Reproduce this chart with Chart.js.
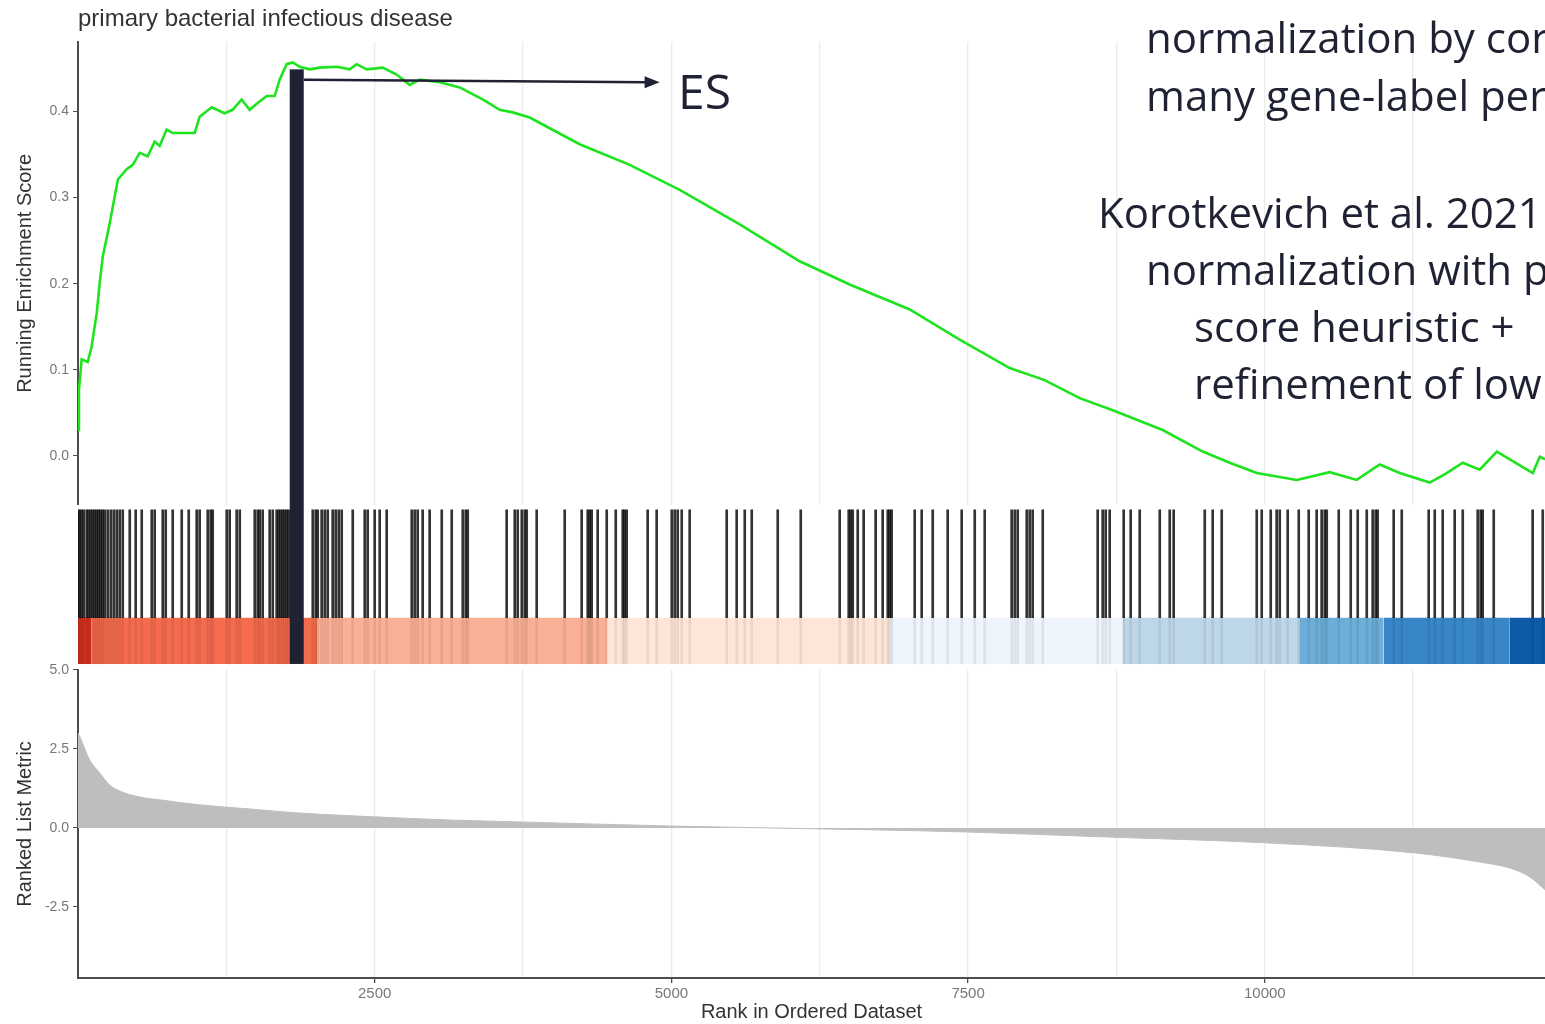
<!DOCTYPE html>
<html>
<head>
<meta charset="utf-8">
<script src="https://cdn.jsdelivr.net/npm/chart.js@4.4.1/dist/chart.umd.min.js"></script>
<style>
  html, body { margin: 0; padding: 0; background: #fff; }
  body { width: 1545px; height: 1024px; overflow: hidden; position: relative; }
  #gsea { position: absolute; left: 0; top: 0; }
  .note { position: absolute; white-space: nowrap; color: #1f2233;
          font-family: "Open Sans", sans-serif; font-size: 42px; line-height: 42px; }
</style>
</head>
<body>
<canvas id="gsea" width="1545" height="1024"></canvas>
<div class="note" style="left:678px; top:67px; font-size:48px; line-height:48px;">ES</div>
<div class="note" style="left:1146px; top:16px;">normalization by cor</div>
<div class="note" style="left:1146px; top:74px;">many gene-label per</div>
<div class="note" style="left:1098px; top:191px;">Korotkevich et al. 2021</div>
<div class="note" style="left:1146px; top:248px;">normalization with p</div>
<div class="note" style="left:1194px; top:305px;">score heuristic +</div>
<div class="note" style="left:1194px; top:362px;">refinement of low</div>
<script>
// running enrichment score (rank, score)
const esRanks = [0, 8, 31, 82, 115, 158, 183, 208, 267, 336, 410, 461, 520, 587, 646, 688, 747, 798, 983,
  1025, 1127, 1236, 1303, 1379, 1446, 1514, 1590, 1657, 1699, 1758, 1809, 1868, 1953, 2037, 2180, 2289,
  2348, 2433, 2567, 2685, 2795, 2879, 3048, 3216, 3410, 3553, 3663, 3806, 4227, 4649, 5070, 5576, 6081,
  6502, 7008, 7429, 7850, 8145, 8440, 8719, 9140, 9477, 9704, 9932, 10269, 10547, 10775, 10968, 11137,
  11390, 11533, 11668, 11811, 11955, 12258, 12317, 12361];
const esScores = [0.03, 0.077, 0.112, 0.109, 0.127, 0.166, 0.201, 0.231, 0.27, 0.321, 0.333, 0.338, 0.352,
  0.348, 0.365, 0.36, 0.379, 0.375, 0.375, 0.394, 0.405, 0.398, 0.402, 0.414, 0.402, 0.41, 0.418, 0.418,
  0.437, 0.455, 0.457, 0.452, 0.449, 0.451, 0.452, 0.449, 0.455, 0.449, 0.451, 0.443, 0.431, 0.437, 0.434,
  0.428, 0.414, 0.402, 0.399, 0.393, 0.362, 0.338, 0.309, 0.269, 0.226, 0.199, 0.170, 0.135, 0.102, 0.088,
  0.067, 0.053, 0.03, 0.005, -0.008, -0.02, -0.028, -0.019, -0.028, -0.01, -0.02, -0.031, -0.02, -0.008,
  -0.016, 0.005, -0.02, -0.001, -0.004];

// positions of gene set members in the ranked list
const hitRanks = [1, 14, 31, 48, 73, 90, 107, 124, 141, 158, 174, 191, 208, 225, 250, 276, 301, 326, 351,
  377, 436, 486, 537, 621, 646, 714, 739, 798, 874, 933, 1000, 1025, 1093, 1118, 1135, 1253, 1278, 1337,
  1363, 1489, 1514, 1531, 1556, 1615, 1641, 1674, 1691, 1708, 1725, 1742, 1759, 1775, 1978, 2003, 2020,
  2053, 2079, 2104, 2146, 2171, 2197, 2222, 2315, 2416, 2441, 2500, 2542, 2601, 2812, 2837, 2862, 2904,
  2963, 3065, 3149, 3242, 3267, 3284, 3612, 3680, 3705, 3739, 3764, 3781, 3865, 4101, 4244, 4295, 4312,
  4328, 4379, 4455, 4531, 4590, 4606, 4623, 4800, 4876, 5003, 5028, 5053, 5087, 5154, 5466, 5550, 5618,
  5677, 5896, 6090, 6418, 6494, 6511, 6528, 6570, 6620, 6721, 6780, 6823, 6839, 6856, 7050, 7109, 7202,
  7328, 7446, 7556, 7640, 7867, 7893, 7918, 7994, 8019, 8044, 8129, 8592, 8634, 8659, 8693, 8811, 8870,
  8946, 9115, 9199, 9232, 9494, 9561, 9637, 9932, 9974, 10050, 10100, 10126, 10193, 10286, 10370, 10437,
  10479, 10505, 10522, 10623, 10724, 10783, 10859, 10909, 10934, 10951, 11086, 11154, 11381, 11432,
  11499, 11600, 11668, 11794, 11819, 11836, 11929, 12257, 12342];

// ranked list metric (rank, value)
const metricRanks = [0, 14, 98, 183, 267, 351, 520, 688, 1025, 1446, 1868, 2500, 3132, 3721, 4994, 5828,
  7497, 8609, 9999, 11263, 11811, 12064, 12233, 12361];
const metricValues = [3.0, 2.9, 2.15, 1.74, 1.36, 1.17, 0.98, 0.89, 0.73, 0.6, 0.47, 0.35, 0.25, 0.19, 0.06,
  0.0, -0.13, -0.28, -0.47, -0.79, -1.08, -1.27, -1.55, -1.96];

// colour bar segments of the ranked list
const bandEdges = [0, 115, 2020, 4460, 6840, 8805, 10290, 11000, 12060, 12361];
const bandColors = ['#d7301f', '#f46b4d', '#fab095', '#fde5d8', '#eef4fc', '#bdd7e8', '#6caed7', '#3886c5', '#0f5aa6'];

const gridRanks = [1250, 2500, 3750, 5000, 6250, 7500, 8750, 10000, 11250];
const xTickLabels = [2500, 5000, 7500, 10000];
const esTicks = [0.0, 0.1, 0.2, 0.3, 0.4];
const metricTicks = [-2.5, 0.0, 2.5, 5.0];

const esPeakRank = 1843;
const esBarTop = 0.449;
const arrowEndRank = 4901;

const axisColor = '#4d4d4d';
const tickFont = {family: 'Liberation Sans', size: 14};
const titleFont = {family: 'Liberation Sans', size: 20};

// hits drawn from 0.3 to 1, colour bar from 0 to 0.3 on the middle axis
const datasets = [];
datasets.push({
  type: 'line', yAxisID: 'yES',
  data: esRanks.map((r, i) => ({x: r, y: esScores[i]})),
  borderColor: '#1ee31e', borderWidth: 2.6, pointRadius: 0, fill: false, tension: 0
});
datasets.push({
  type: 'line', yAxisID: 'yMetric',
  data: metricRanks.map((r, i) => ({x: r, y: metricValues[i]})),
  borderColor: '#bebebe', borderWidth: 1, backgroundColor: '#bebebe',
  pointRadius: 0, fill: 'origin', cubicInterpolationMode: 'monotone'
});
datasets.push({
  type: 'bar', yAxisID: 'yHits', grouped: false,
  data: hitRanks.map(r => ({x: r, y: [0.3, 1.0]})),
  backgroundColor: 'rgba(0,0,0,0.8)', barThickness: 2, borderWidth: 0
});
datasets.push({
  type: 'bar', yAxisID: 'yHits', grouped: false,
  data: hitRanks.map(r => ({x: r, y: [0, 0.3]})),
  backgroundColor: 'rgba(0,0,0,0.07)', barThickness: 2, borderWidth: 0
});
for (let i = 0; i < bandColors.length; i++) {
  datasets.push({
    type: 'line', yAxisID: 'yHits',
    data: [{x: bandEdges[i], y: 0.3}, {x: bandEdges[i + 1], y: 0.3}],
    borderWidth: 0, pointRadius: 0, backgroundColor: bandColors[i],
    fill: {value: 0}
  });
}

const gseaPlugin = {
  id: 'gseaExtras',
  beforeDatasetsDraw(chart) {
    // hit panel has a plain background
    const {ctx, chartArea} = chart;
    const h = chart.scales.yHits;
    ctx.save();
    ctx.fillStyle = '#ffffff';
    ctx.fillRect(chartArea.left + 1, h.top, chartArea.width, h.bottom - h.top);
    ctx.restore();
  },
  afterDatasetsDraw(chart) {
    const {ctx} = chart;
    const x = chart.scales.x;
    const yES = chart.scales.yES;
    const yHits = chart.scales.yHits;
    const cx = x.getPixelForValue(esPeakRank);
    const top = yES.getPixelForValue(esBarTop);
    const bottom = yHits.getPixelForValue(0);
    ctx.save();
    ctx.fillStyle = '#1f2233';
    ctx.fillRect(cx - 7, top, 14, bottom - top);
    // arrow pointing to the ES label
    const y1 = yES.getPixelForValue(0.437);
    const y2 = yES.getPixelForValue(0.434);
    const xEnd = x.getPixelForValue(arrowEndRank);
    ctx.strokeStyle = '#1f2233';
    ctx.lineWidth = 2.5;
    ctx.beginPath();
    ctx.moveTo(cx + 7, y1);
    ctx.lineTo(xEnd - 12, y2);
    ctx.stroke();
    ctx.beginPath();
    ctx.moveTo(xEnd, y2);
    ctx.lineTo(xEnd - 15, y2 - 6);
    ctx.lineTo(xEnd - 15, y2 + 6);
    ctx.closePath();
    ctx.fill();
    ctx.restore();
  }
};

new Chart(document.getElementById('gsea'), {
  type: 'line',
  data: {datasets: datasets},
  plugins: [gseaPlugin],
  options: {
    responsive: false,
    animation: false,
    devicePixelRatio: 1,
    layout: {padding: 0},
    plugins: {
      legend: {display: false},
      tooltip: {enabled: false},
      title: {
        display: true, text: 'primary bacterial infectious disease', align: 'start', fullSize: false,
        color: '#333', font: {family: 'Liberation Sans', size: 24, weight: 'normal'},
        padding: {top: 5, bottom: 8}
      }
    },
    scales: {
      x: {
        type: 'linear', min: 0, max: 12361, offset: false, position: 'bottom',
        afterBuildTicks: s => { s.ticks = gridRanks.map(v => ({value: v})); },
        afterFit: s => { s.height = 46; },
        ticks: {
          autoSkip: false, maxRotation: 0, color: '#777', font: {family: 'Liberation Sans', size: 15}, padding: 2,
          callback: v => xTickLabels.includes(v) ? String(v) : ''
        },
        grid: {
          color: '#ebebeb', lineWidth: 1.3, offset: false, tickLength: 5,
          tickColor: c => (c.tick && xTickLabels.includes(c.tick.value)) ? axisColor : 'rgba(0,0,0,0)'
        },
        border: {color: axisColor, width: 2},
        title: {display: true, text: 'Rank in Ordered Dataset', color: '#333', font: titleFont, padding: {top: 0, bottom: 0}}
      },
      // left stacked axes: the last one listed is placed at the top
      yMetric: {
        type: 'linear', position: 'left', stack: 'gsea', stackWeight: 308,
        min: -4.75, max: 5.0,
        afterBuildTicks: s => { s.ticks = metricTicks.map(v => ({value: v})); },
        afterFit: s => { s.width = 78; },
        ticks: {color: '#777', font: tickFont, padding: 4, callback: v => v.toFixed(1)},
        grid: {display: true, drawOnChartArea: false, tickLength: 5, tickColor: axisColor},
        border: {color: axisColor, width: 2},
        title: {display: true, text: 'Ranked List Metric', color: '#333', font: titleFont, padding: {top: 13, bottom: 4}}
      },
      yHits: {
        type: 'linear', position: 'left', stack: 'gsea', stackWeight: 165,
        min: -0.039, max: 1.032,
        afterFit: s => { s.width = 78; },
        ticks: {display: false},
        grid: {display: false},
        border: {display: false}
      },
      yES: {
        type: 'linear', position: 'left', stack: 'gsea', stackWeight: 463,
        min: -0.057, max: 0.481,
        afterBuildTicks: s => { s.ticks = esTicks.map(v => ({value: v})); },
        afterFit: s => { s.width = 78; },
        ticks: {color: '#777', font: tickFont, padding: 4, callback: v => v.toFixed(1)},
        grid: {display: true, drawOnChartArea: false, tickLength: 5, tickColor: axisColor},
        border: {color: axisColor, width: 2},
        title: {display: true, text: 'Running Enrichment Score', color: '#333', font: titleFont, padding: {top: 13, bottom: 4}}
      }
    }
  }
});
</script>
</body>
</html>
